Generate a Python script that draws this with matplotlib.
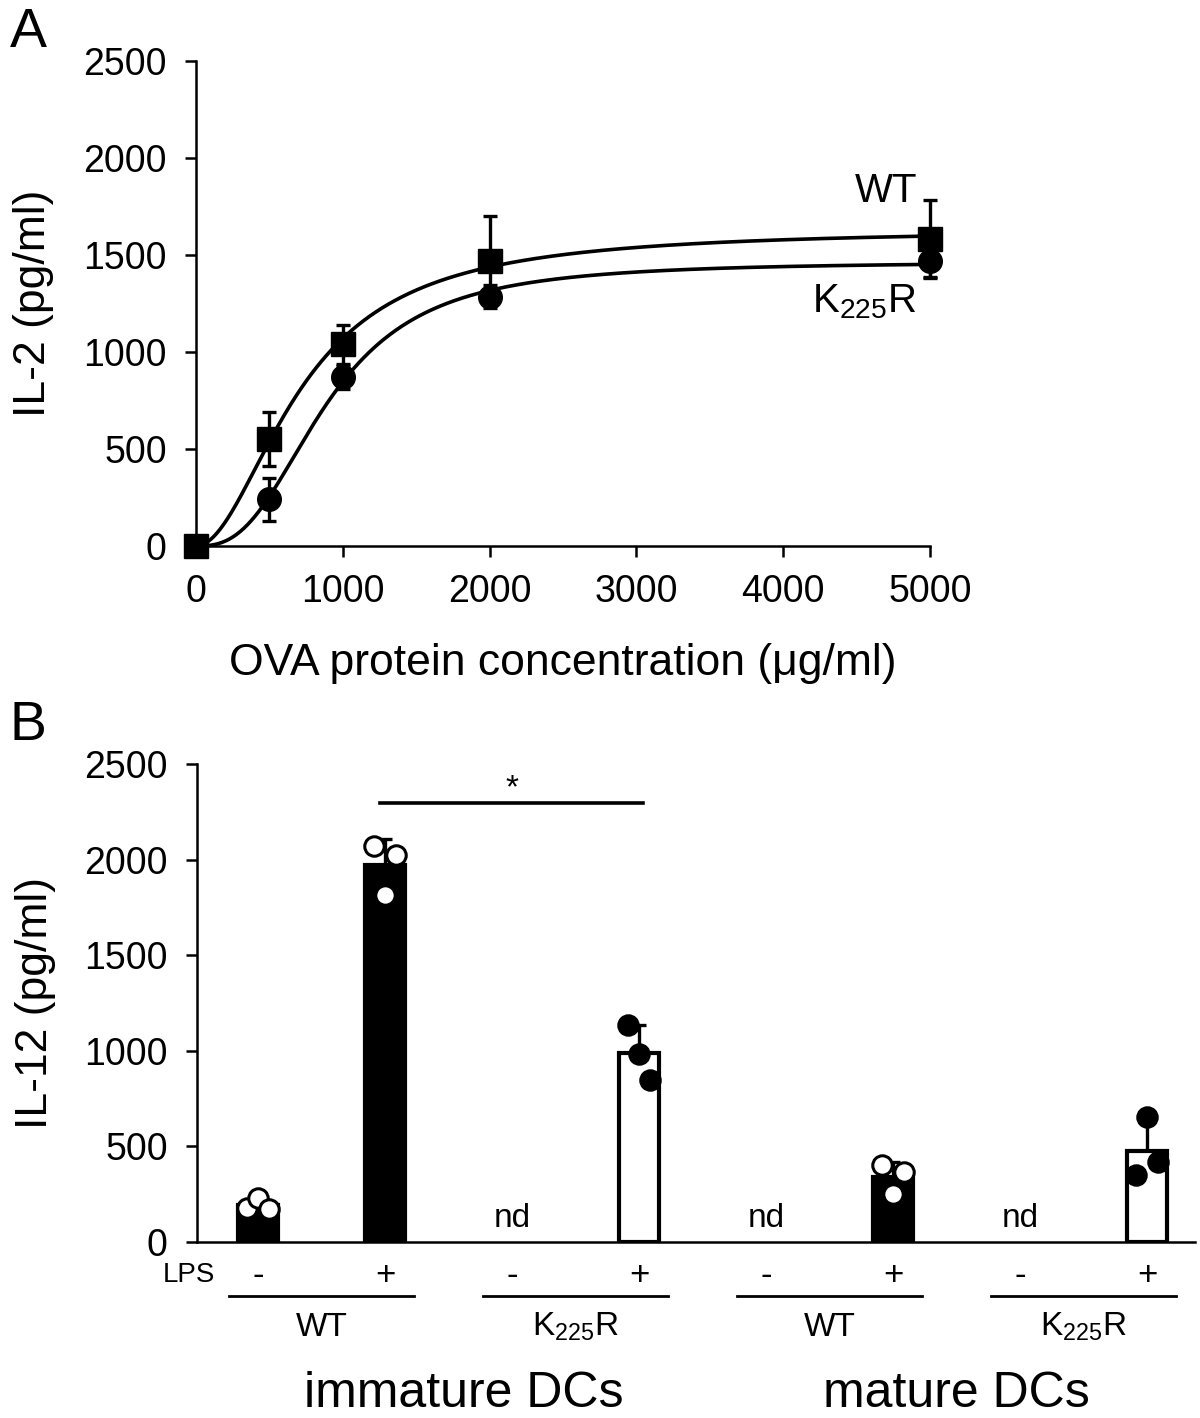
import numpy as np
import matplotlib
matplotlib.use("Agg")
import matplotlib.pyplot as plt

plt.rcParams['font.family'] = ['Liberation Sans', 'DejaVu Sans']
plt.rcParams['mathtext.fontset'] = 'custom'
plt.rcParams['mathtext.rm'] = 'Liberation Sans'
plt.rcParams['mathtext.it'] = 'Liberation Sans'

# ---- panel A data: IL-2 vs OVA concentration ----
ova_conc = np.array([0, 500, 1000, 2000, 5000])
il2_wt = np.array([0, 550, 1040, 1470, 1585])
il2_wt_err = np.array([0, 140, 100, 230, 200])
il2_k225r = np.array([0, 240, 870, 1285, 1470])
il2_k225r_err = np.array([0, 110, 60, 60, 90])

# ---- panel B data: IL-12 ----
genotypes = ['WT', '$\\mathregular{K_{225}R}$', 'WT', '$\\mathregular{K_{225}R}$']
lps = ['-', '+', '-', '+', '-', '+', '-', '+']
il12_mean = [193, 1970, 0, 988, 0, 340, 0, 474]
il12_err = [30, 140, 0, 145, 0, 80, 0, 160]
il12_pts = [[178, 230, 172], [2073, 1815, 2024], [], [1135, 983, 847],
            [], [403, 251, 366], [], [350, 654, 418]]
not_detected = [False, False, True, False, True, False, True, False]
is_wt = [True, True, False, False, True, True, False, False]

W, H = 1200, 1418
fig = plt.figure(figsize=(W / 100, H / 100), dpi=100)


def fx(px):
    return px / W


def fy(py):
    return 1 - py / H


def hill_fit(x, y):
    best = None
    for K in np.linspace(300, 3000, 271):
        for n in np.linspace(1, 5, 81):
            f = x ** n / (K ** n + x ** n)
            V = (f @ y) / (f @ f)
            e = ((V * f - y) ** 2).sum()
            if best is None or e < best[0]:
                best = (e, V, K, n)
    return best[1:]


# ================= Panel A =================
axA = fig.add_axes([fx(196), fy(546), fx(930) - fx(196), fy(61) - fy(546)])
xs = np.linspace(0, 5000, 600)
for y, err, mk in [(il2_wt, il2_wt_err, 's'), (il2_k225r, il2_k225r_err, 'o')]:
    V, K, n = hill_fit(ova_conc.astype(float), y.astype(float))
    axA.plot(xs, V * xs ** n / (K ** n + xs ** n), color='black', lw=2.6, zorder=2, clip_on=False)
    axA.errorbar(ova_conc, y, yerr=err, fmt=mk, color='black', ms=17, elinewidth=2.4,
                 capsize=5, capthick=2.4, zorder=3, clip_on=False)

axA.set_xlim(0, 5000)
axA.set_ylim(0, 2500)
axA.set_xticks([0, 1000, 2000, 3000, 4000, 5000])
axA.set_yticks([0, 500, 1000, 1500, 2000, 2500])
for s in ['top', 'right']:
    axA.spines[s].set_visible(False)
for s in ['left', 'bottom']:
    axA.spines[s].set_linewidth(1.8)
axA.tick_params(labelsize=27, width=1.8, length=8)
axA.tick_params(axis='y', pad=13)
axA.tick_params(axis='x', pad=12)
axA.set_xlabel('OVA protein concentration (\u03bcg/ml)', fontsize=32, labelpad=24)
axA.set_ylabel('IL-2 (pg/ml)', fontsize=32)
axA.yaxis.set_label_coords((54 - 196) / 734, 0.5)
axA.text(4700, 1830, 'WT', fontsize=29, ha='center', va='center')
axA.text(4550, 1260, '$\\mathregular{K_{225}R}$', fontsize=29, ha='center', va='center')
fig.text(fx(28), fy(47), 'A', fontsize=40, ha='center', va='baseline')

# ================= Panel B =================
axB = fig.add_axes([fx(197), fy(1242), fx(1195) - fx(197), fy(764) - fy(1242)])
pos = np.arange(len(il12_mean))
bw = 0.31
for i in range(len(pos)):
    if not_detected[i]:
        axB.text(pos[i], 125, 'nd', fontsize=24, ha='center', va='center')
        continue
    fc = 'black' if is_wt[i] else 'white'
    axB.bar(pos[i], il12_mean[i], width=bw, color=fc, edgecolor='black', lw=3, zorder=2)
    axB.errorbar(pos[i], il12_mean[i], yerr=[[0], [il12_err[i]]], fmt='none', ecolor='black',
                 elinewidth=2.4, capsize=5, capthick=2.4, zorder=1)
    offs = [-0.085, 0.0, 0.085]
    pfc = 'white' if is_wt[i] else 'black'
    for j, v in enumerate(il12_pts[i]):
        axB.plot(pos[i] + offs[j], v, 'o', ms=14, mfc=pfc, mec='black', mew=2.2, zorder=3)

axB.set_xlim(-0.48, 7.378)
axB.set_ylim(0, 2500)
axB.set_yticks([0, 500, 1000, 1500, 2000, 2500])
axB.set_xticks([])
for s in ['top', 'right']:
    axB.spines[s].set_visible(False)
for s in ['left', 'bottom']:
    axB.spines[s].set_linewidth(1.8)
axB.tick_params(labelsize=27, width=1.8, length=8)
axB.tick_params(axis='y', pad=13)
axB.set_ylabel('IL-12 (pg/ml)', fontsize=32)
axB.yaxis.set_label_coords((56 - 197) / 998, 0.5)

# significance bar
axB.plot([pos[1] - 0.04, pos[3] + 0.03], [2296, 2296], color='black', lw=2.6)
axB.text((pos[1] + pos[3]) / 2, 2370, '*', fontsize=24, ha='center', va='center')

# LPS row and group labels
axB.text(-0.34, -173, 'LPS', fontsize=20, ha='right', va='center', clip_on=False)
for i, s in enumerate(lps):
    axB.text(pos[i], -173, s, fontsize=25, ha='center', va='center', clip_on=False)
for g, name in enumerate(genotypes):
    mid = (pos[2 * g] + pos[2 * g + 1]) / 2
    axB.plot([mid - 0.73, mid + 0.73], [-282, -282], color='black', lw=2.0, clip_on=False)
    axB.text(mid, -445, name, fontsize=24, ha='center', va='center', clip_on=False)
dc_shift = [0.12, 0.0]
for k, name in enumerate(['immature DCs', 'mature DCs']):
    mid = (pos[4 * k] + pos[4 * k + 3]) / 2 + dc_shift[k]
    axB.text(mid, -795, name, fontsize=36, ha='center', va='center', clip_on=False)

fig.text(fx(28), fy(740), 'B', fontsize=40, ha='center', va='baseline')

fig.savefig('out.png', dpi=100)
